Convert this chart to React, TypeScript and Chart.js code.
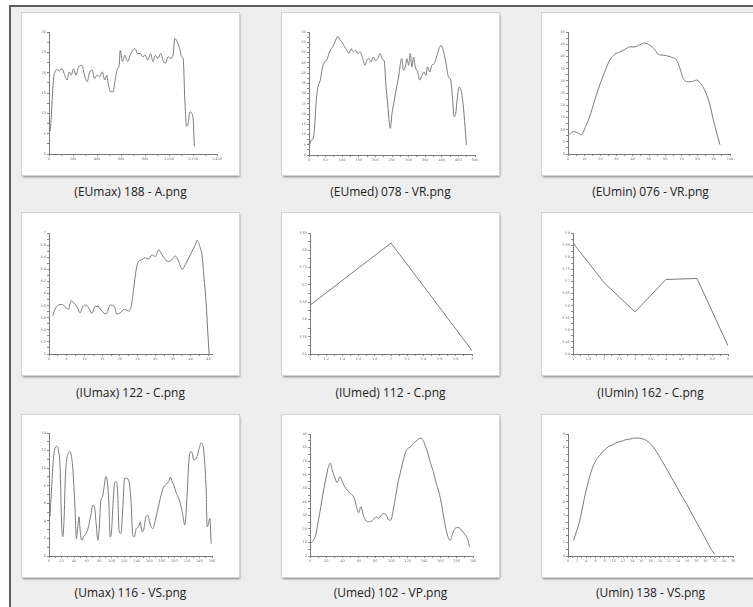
import React, { useEffect, useRef } from 'react';
import { Chart, registerables } from 'chart.js';
Chart.register(...registerables);

// ---------- data ----------
const c1X = [8,14,22,37,51,70,87,107,126,149,169,185,205,225,247,275,295,318,340,360,379,402,421,444,464,481,495,514,534,551,571,585,593,613,633,655,677,697,717,739,762,781,801,824,846,866,886,908,930,950,970,992,1014,1034,1048,1062,1076,1090,1104,1118,1132,1146,1160,1174,1188,1202,1211];
const c1Y = [5.5,6.8,10.8,18.2,20.2,20.8,20.5,21,19.8,18.2,20.2,19.4,21,19.4,21.4,21.8,19.4,17.8,20.2,20.6,18.6,19.4,19,20.2,18.2,19.4,17,15.3,15.3,18.2,21,21.8,25.5,22.7,24.3,22.7,24.3,25.5,25.9,24.7,24.7,23.9,24.3,23.1,24.7,22.7,24.3,23.5,24.7,23.1,22.3,23.9,23.5,24.3,28.4,28,27.1,25.9,23.9,23.5,13.3,6.8,7.6,10.4,10,8.4,1.9];
const t1X = [0,200,400,600,800,1000,1200,1400];
const t1Y = [0,5,10,15,20,25,30];

const c2X = [2,7,12,17,22,27,34,40,47,54,60,67,74,80,87,94,100,107,114,120,127,134,140,147,154,162,169,174,180,187,194,200,207,214,220,227,232,237,242,245,250,257,264,270,277,280,284,290,295,300,305,310,315,320,327,334,340,347,352,357,364,370,377,384,392,398,404,412,420,427,432,437,442,447,452,458,464,470,474];
const c2Y = [4.9,7.3,7.6,13.8,26.8,33.2,36.5,42.2,45.4,46.5,49.5,51.9,53.5,55.9,57.9,55.9,55.1,52.7,51.1,49.5,51.9,50.3,51.1,49.5,50.3,47,43.8,46.2,47,45.4,47.8,46.2,47,49.5,47,45.4,33.2,25.1,15.4,13,20.3,26.8,33.2,38.1,46.2,47,41.4,43,47,43.8,49.5,43,47.8,43,40.5,36.5,38.9,40.5,38.9,43,40.5,43.8,44.6,47.8,51.9,53.5,51.1,45.4,38.1,36.5,28.4,18.6,20.3,28.4,33.2,31.6,25.1,13.8,4.9];
const t2X = [0,50,100,150,200,250,300,350,400,450,500];
const t2Y = [0,5,10,15,20,25,30,35,40,45,50,55,60];

const c3X = [1,3.1,5.6,8.2,10.9,13.4,16.5,19.6,22.7,25.8,28.9,32,35,38.1,41.2,44.3,47.4,50.5,53,55.7,58.8,61.9,64.5,67,69.1,71.1,73.2,76.3,79.4,82.5,85.2,87.6,89.7,91.8,93.8];
const c3Y = [7.9,9.2,8.8,7.9,11.3,15.4,22.1,28.3,33.7,38.5,40.9,41.8,42.8,43.9,43.9,44.8,45.5,44.6,43.2,40.9,40.5,40.1,39.5,38.5,35.1,31,29.6,29.6,30.3,28.3,24.9,20.1,14,8.6,3.8];
const t3X = [0,10,20,30,40,50,60,70,80,90,100];
const t3Y = [0,5,10,15,20,25,30,35,40,45,50];

const c4X = [1.04,1.70,2.64,3.58,4.53,5.47,6.23,7.08,8.02,8.77,9.53,10.47,11.42,12.08,13.02,13.96,14.91,16.13,17.26,18.40,19.15,20.09,21.23,22.45,23.21,23.87,24.62,25.28,26.23,27.17,28.11,29.06,30.00,30.94,31.89,32.83,33.77,34.72,35.66,36.60,37.55,38.49,39.43,40.38,41.32,41.79,42.55,43.21,43.87,44.34,44.81,45.19];
const c4Y = [5.63,5.74,5.81,5.82,5.78,5.74,5.88,5.84,5.77,5.68,5.78,5.81,5.74,5.67,5.79,5.78,5.71,5.66,5.81,5.79,5.66,5.68,5.74,5.71,5.79,6.07,6.40,6.53,6.56,6.59,6.57,6.64,6.61,6.72,6.64,6.56,6.53,6.56,6.62,6.53,6.40,6.48,6.59,6.70,6.81,6.88,6.78,6.62,6.18,5.85,5.36,5.00];
const t4X = [0,5,10,15,20,25,30,35,40,45];
const t4Y = [5,5.2,5.4,5.6,5.8,6,6.2,6.4,6.6,6.8,7];

const c5X = [1,2,3];
const c5Y = [3.641,3.821,3.51];
const t5X = [1,1.2,1.4,1.6,1.8,2,2.2,2.4,2.6,2.8,3];
const t5Y = [3.5,3.55,3.6,3.65,3.7,3.75,3.8,3.85];

const c6X = [1,2,3,4,5,6];
const c6Y = [3.859,3.695,3.574,3.708,3.712,3.434];
const t6X = [1,1.5,2,2.5,3,3.5,4,4.5,5,5.5,6];
const t6Y = [3.4,3.45,3.5,3.55,3.6,3.65,3.7,3.75,3.8,3.85,3.9];

const c7X = [1.6,4.3,6.9,9.6,12.3,14.9,17.6,20.3,21.9,24.0,26.1,28.3,30.9,33.6,36.3,38.9,41.6,43.7,45.9,48.0,49.6,52.3,54.9,59.2,62.9,66.7,69.9,72.5,75.2,77.9,80.0,82.7,85.3,88.0,90.7,93.3,95.5,97.6,99.7,101.9,104.5,107.2,109.3,112.0,114.7,117.9,120.5,123.2,126.9,130.7,133.3,136.0,139.2,142.9,145.6,148.3,150.9,154.7,157.9,160.5,162.7,165.9,169.6,173.3,177.6,181.9,185.6,190.9,193.6,196.3,198.9,203.2,206.9,210.7,213.9,216.5,218.1,220.3,222.9,225.6,228.3,230.9,235.2,238.9,242.7,245.3,248.0,250.7,252.3,254.4,256.5,258.7];
const c7Y = [4.46,7.90,10.95,12.28,12.47,12.09,10.19,3.32,2.17,4.08,9.04,10.95,11.71,11.90,11.14,9.04,5.23,1.98,3.32,4.46,2.94,1.79,2.17,2.56,3.32,4.65,5.80,5.61,3.70,1.79,2.94,6.37,6.75,7.90,9.04,8.28,5.99,2.17,2.75,5.61,8.28,8.47,7.52,2.75,2.56,5.61,8.85,8.85,8.66,6.37,2.56,2.17,3.13,3.32,3.89,2.75,2.94,4.46,4.65,3.89,3.32,3.13,4.08,5.23,6.56,7.71,8.09,8.47,8.97,8.47,8.09,7.13,6.56,5.61,4.46,3.51,4.27,6.94,10.57,11.90,11.71,10.95,11.14,12.09,12.86,12.67,10.95,7.52,3.32,3.70,4.27,1.41];
const t7X = [0,20,40,60,80,100,120,140,160,180,200,220,240,260];
const t7Y = [0,2,4,6,8,10,12,14];

const c8X = [1.3,4.2,7.5,10.4,13.3,16.7,20.0,22.1,25.0,27.1,30.0,33.3,36.7,39.6,42.5,45.8,49.2,52.1,55.0,57.5,59.6,62.5,65.4,68.8,72.9,77.1,81.3,84.2,87.5,90.8,93.8,96.7,99.2,102.1,105.0,108.3,111.7,114.6,117.5,120.8,124.2,127.1,130.0,133.3,136.3,138.8,141.7,144.6,147.9,151.3,154.2,157.5,160.4,163.3,166.7,170.0,172.1,175.0,177.9,181.3,184.2,187.5,190.8,193.8,195.8];
const c8Y = [9.6,11.6,16.6,26.5,36.4,48.7,58.6,64.8,68.5,63.6,58.6,54.2,58.6,54.9,51.2,48.7,46.2,45.0,41.3,35.1,31.9,36.4,30.2,26.0,25.2,26.5,28.9,27.7,30.2,31.4,30.2,26.5,26.5,33.9,43.8,54.9,63.6,71.0,77.2,79.6,80.9,83.3,84.6,86.3,87.1,85.3,80.9,75.9,68.5,62.3,54.9,48.7,41.3,31.4,20.3,12.9,11.6,16.6,20.3,21.0,20.3,17.8,15.3,11.6,6.7];
const t8X = [0,20,40,60,80,100,120,140,160,180,200];
const t8Y = [0,10,20,30,40,50,60,70,80,90];

const c9X = [1.24,1.82,2.40,2.98,3.56,4.14,4.73,5.45,6.18,7.05,8.00,8.94,9.81,10.69,11.63,12.58,13.60,14.54,15.49,16.36,17.08,18.18,19.27,20.36,21.45,22.54,23.63,24.72,25.81,26.90,27.99,29.08,30.17,31.26,31.99];
const c9Y = [1.16,1.78,2.40,3.26,4.25,5.07,5.86,6.60,7.10,7.47,7.84,8.09,8.21,8.38,8.46,8.58,8.63,8.70,8.70,8.63,8.53,8.21,7.72,7.10,6.48,5.81,5.17,4.50,3.88,3.19,2.52,1.85,1.16,0.49,0.12];
const t9X = [0,2,4,6,8,10,12,14,16,18,20,22,24,26,28,30,32,34,36];
const t9Y = [0,1,2,3,4,5,6,7,8,9];

const captions = [
  '(EUmax) 188 - A.png', '(EUmed) 078 - VR.png', '(EUmin) 076 - VR.png',
  '(IUmax) 122 - C.png', '(IUmed) 112 - C.png', '(IUmin) 162 - C.png',
  '(Umax) 116 - VS.png', '(Umed) 102 - VP.png', '(Umin) 138 - VS.png',
];

type Series = { xs: number[]; ys: number[]; tx: number[]; ty: number[]; xMax?: number; tension: number };
const series: Series[] = [
  { xs: c1X, ys: c1Y, tx: t1X, ty: t1Y, tension: 0.15 },
  { xs: c2X, ys: c2Y, tx: t2X, ty: t2Y, tension: 0.25 },
  { xs: c3X, ys: c3Y, tx: t3X, ty: t3Y, tension: 0.4 },
  { xs: c4X, ys: c4Y, tx: t4X, ty: t4Y, xMax: 46, tension: 0.2 },
  { xs: c5X, ys: c5Y, tx: t5X, ty: t5Y, tension: 0 },
  { xs: c6X, ys: c6Y, tx: t6X, ty: t6Y, tension: 0 },
  { xs: c7X, ys: c7Y, tx: t7X, ty: t7Y, tension: 0.35 },
  { xs: c8X, ys: c8Y, tx: t8X, ty: t8Y, tension: 0.35 },
  { xs: c9X, ys: c9Y, tx: t9X, ty: t9Y, tension: 0.4 },
];

// ---------- layout (styles) ----------
const CARD_W = 217;
const CARD_H = 162;
const COLS = [22, 282, 542];
const ROWS = [13, 213, 415];
const CAP_TOP = [184, 385, 585];
// plot-area insets inside each card: left, top, right, bottom
const insets = [
  [27, 19, 22, 21], [27, 19, 24, 20], [26, 19, 29, 21],
  [27, 20, 27, 21], [28, 20, 27, 21], [31, 20, 31, 21],
  [27, 18, 27, 21], [28, 19, 26, 21], [26, 19, 26, 21],
];
const YW = 11;
const XH = 8;

const fmt = new Intl.NumberFormat('en-US', { maximumFractionDigits: 2 });

function withMinors(majors: number[], max: number) {
  const out: { value: number }[] = [];
  for (let i = 0; i < majors.length; i++) {
    out.push({ value: majors[i] });
    if (i < majors.length - 1) out.push({ value: (majors[i] + majors[i + 1]) / 2 });
  }
  return out.filter((t) => t.value <= max + 1e-9);
}

function isMajor(v: number, majors: number[]) {
  return majors.some((m) => Math.abs(m - v) < 1e-9);
}

function Thumb({ s, inset, left, top, caption, capTop }: { s: Series; inset: number[]; left: number; top: number; caption: string; capTop: number }) {
  const ref = useRef<HTMLCanvasElement>(null);
  useEffect(() => {
    const xMin = s.tx[0];
    const xMax = s.xMax ?? s.tx[s.tx.length - 1];
    const yMin = s.ty[0];
    const yMax = s.ty[s.ty.length - 1];
    const tickFont = { size: 3.5, family: 'DejaVu Sans' };
    const chart = new Chart(ref.current as HTMLCanvasElement, {
      type: 'line',
      data: {
        datasets: [
          {
            data: s.xs.map((x, i) => ({ x, y: s.ys[i] })),
            borderColor: '#7a7a7a',
            borderWidth: 1,
            pointRadius: 0,
            tension: s.tension,
            cubicInterpolationMode: s.tension > 0 ? 'monotone' : 'default',
            fill: false,
          } as any,
        ],
      },
      options: {
        responsive: false,
        animation: false,
        events: [],
        layout: { padding: { left: inset[0] - YW, top: inset[1], right: inset[2], bottom: inset[3] - XH } },
        plugins: { legend: { display: false }, tooltip: { enabled: false } },
        scales: {
          x: {
            type: 'linear',
            min: xMin,
            max: xMax,
            afterFit: (sc: any) => { sc.height = XH; },
            afterBuildTicks: (sc: any) => { sc.ticks = withMinors(s.tx, xMax); },
            grid: { drawOnChartArea: false, drawTicks: true, tickLength: 2, color: '#8c8c8c' },
            border: { display: true, color: '#7a7a7a', width: 1 },
            ticks: {
              autoSkip: false, maxRotation: 0, minRotation: 0, padding: 1,
              font: tickFont, color: '#777',
              callback: (v: any) => (isMajor(Number(v), s.tx) ? fmt.format(Number(v)) : ''),
            },
          },
          y: {
            type: 'linear',
            min: yMin,
            max: yMax,
            afterFit: (sc: any) => { sc.width = YW; },
            afterBuildTicks: (sc: any) => { sc.ticks = withMinors(s.ty, yMax); },
            grid: { drawOnChartArea: false, drawTicks: true, tickLength: 2, color: '#8c8c8c' },
            border: { display: true, color: '#7a7a7a', width: 1 },
            ticks: {
              autoSkip: false, padding: 1,
              font: tickFont, color: '#777',
              callback: (v: any) => (isMajor(Number(v), s.ty) ? fmt.format(Number(v)) : ''),
            },
          },
        },
      } as any,
    });
    return () => chart.destroy();
  }, []);

  return (
    <>
      <div
        style={{
          position: 'absolute', left, top, width: CARD_W, height: CARD_H,
          background: '#fff',
          boxShadow: '0 0 0 1px #d2d2d2, 1px 2px 2px rgba(0,0,0,0.45)',
        }}
      >
        <canvas ref={ref} width={CARD_W} height={CARD_H} style={{ display: 'block', width: CARD_W, height: CARD_H }} />
      </div>
      <div
        style={{
          position: 'absolute', left, top: capTop, width: CARD_W, textAlign: 'center',
          fontFamily: '"Open Sans", "Noto Sans", sans-serif', fontSize: 12, lineHeight: '16px', color: '#222',
          whiteSpace: 'nowrap',
        }}
      >
        {caption}
      </div>
    </>
  );
}

export default function App() {
  return (
    <div style={{ position: 'fixed', left: 0, top: 0, width: 753, height: 607, background: '#fff', overflow: 'hidden' }}>
      <div style={{ position: 'absolute', left: 11, top: 7, right: 0, bottom: 0, background: '#eeeeee' }} />
      <div style={{ position: 'absolute', left: 9, top: 5, width: 744, height: 2, background: '#5e5e5e' }} />
      <div style={{ position: 'absolute', left: 9, top: 5, width: 2, height: 602, background: '#5e5e5e' }} />
      {series.map((s, i) => (
        <Thumb
          key={i}
          s={s}
          inset={insets[i]}
          left={COLS[i % 3]}
          top={ROWS[Math.floor(i / 3)]}
          capTop={CAP_TOP[Math.floor(i / 3)]}
          caption={captions[i]}
        />
      ))}
    </div>
  );
}
